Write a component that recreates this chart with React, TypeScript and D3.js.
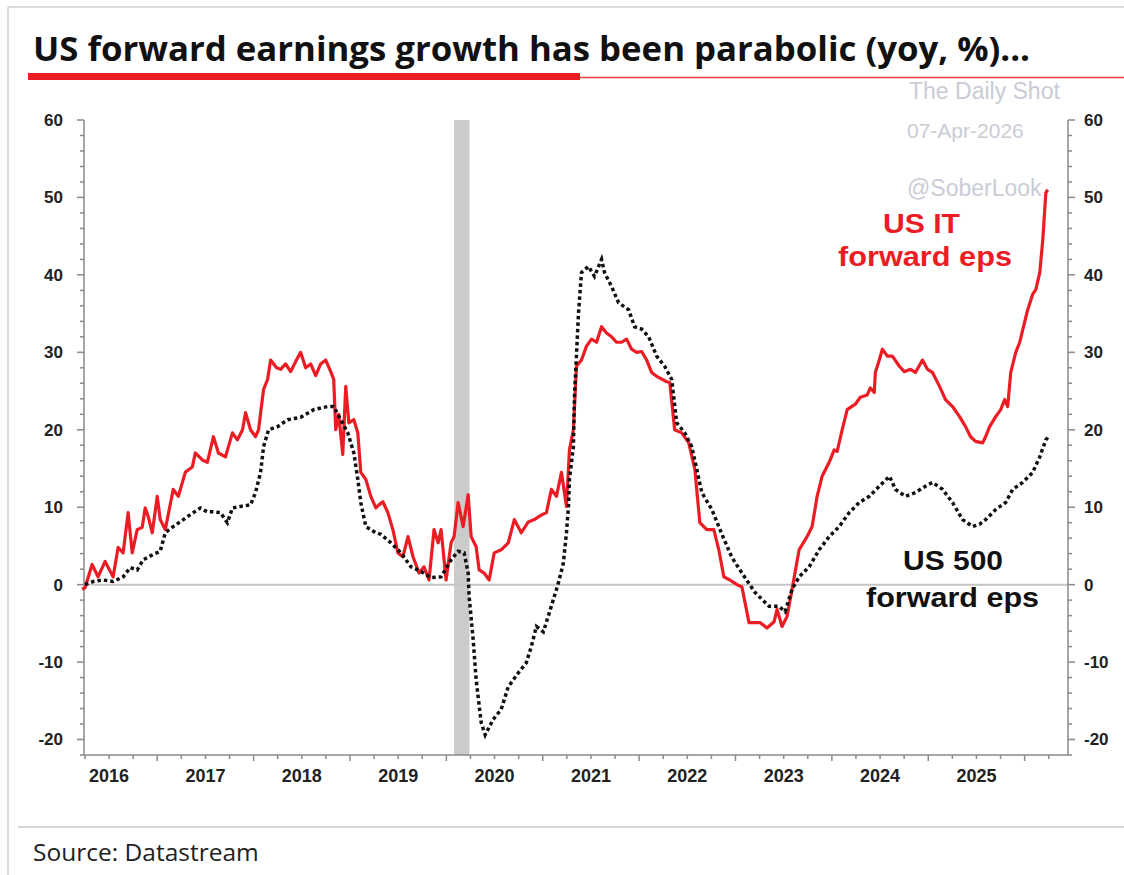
import React from "react";
import * as d3 from "d3";

// ---------- DATA ----------
const yTickValues = [-20, -10, 0, 10, 20, 30, 40, 50, 60];
const yearLabels = [2016, 2017, 2018, 2019, 2020, 2021, 2022, 2023, 2024, 2025];
const recession = [2020.08, 2020.24];

// US IT forward eps growth (yoy, %) : [decimal year, value]
const usItSeries: [number, number][] = [
  [2016.22, -0.6], [2016.251, -0.4], [2016.324, 2.6], [2016.386, 1], [2016.459, 3], [2016.542, 1],
  [2016.594, 4.8], [2016.646, 4.1], [2016.698, 9.3], [2016.74, 4.1], [2016.792, 7.1], [2016.844, 7.4],
  [2016.875, 9.9], [2016.906, 8.8], [2016.948, 6.7], [2017.0, 11.4], [2017.031, 8.4], [2017.083, 7.1],
  [2017.166, 12.3], [2017.219, 11.4], [2017.291, 14.5], [2017.364, 15.2], [2017.395, 17], [2017.468, 16.1],
  [2017.52, 15.8], [2017.583, 19.1], [2017.635, 17], [2017.708, 16.5], [2017.78, 19.6], [2017.832, 18.7],
  [2017.885, 20], [2017.916, 22.2], [2017.968, 20], [2018.02, 19.1], [2018.051, 20], [2018.103, 25.2],
  [2018.145, 26.5], [2018.176, 29], [2018.238, 28], [2018.28, 27.8], [2018.332, 28.5], [2018.384, 27.5],
  [2018.436, 28.8], [2018.488, 30], [2018.54, 28], [2018.592, 28.5], [2018.644, 27], [2018.696, 28.5],
  [2018.748, 29], [2018.8, 27.5], [2018.831, 26.5], [2018.852, 20], [2018.883, 22], [2018.925, 16.8],
  [2018.956, 25.6], [2018.988, 20.9], [2019.04, 21.3], [2019.081, 19.6], [2019.112, 14.5], [2019.164, 13.6],
  [2019.216, 11.4], [2019.268, 9.9], [2019.3, 10.3], [2019.341, 10.7], [2019.393, 9.3], [2019.445, 7.1],
  [2019.497, 4.1], [2019.549, 3.6], [2019.602, 6.2], [2019.654, 3.6], [2019.716, 1.5], [2019.768, 2.3],
  [2019.82, 0.6], [2019.872, 7.1], [2019.914, 5.4], [2019.945, 7.1], [2019.997, 0.6], [2020.049, 5.4],
  [2020.08, 6.2], [2020.122, 10.6], [2020.174, 7.5], [2020.226, 11.6], [2020.257, 6.2], [2020.309, 4.9],
  [2020.34, 1.9], [2020.392, 1.5], [2020.444, 0.6], [2020.496, 4.1], [2020.569, 4.5], [2020.642, 5.4],
  [2020.705, 8.4], [2020.777, 6.7], [2020.85, 8.1], [2020.913, 8.4], [2020.986, 9], [2021.038, 9.3],
  [2021.09, 12.3], [2021.142, 11.4], [2021.194, 14.5], [2021.246, 10.1], [2021.277, 17.4], [2021.318, 20],
  [2021.35, 28.2], [2021.402, 29], [2021.454, 30.8], [2021.506, 31.7], [2021.558, 31.3], [2021.61, 33.3],
  [2021.662, 32.5], [2021.714, 32], [2021.766, 31.3], [2021.818, 31.3], [2021.87, 31.7], [2021.922, 30.4],
  [2021.974, 30], [2022.026, 30.1], [2022.078, 29], [2022.13, 27.4], [2022.182, 26.9], [2022.286, 26.2],
  [2022.318, 26.1], [2022.369, 20], [2022.442, 19.6], [2022.515, 18.3], [2022.578, 14.9], [2022.63, 8],
  [2022.702, 7.1], [2022.775, 7.1], [2022.827, 4.5], [2022.879, 1], [2022.942, 0.6], [2023.015, 0],
  [2023.067, -0.3], [2023.14, -4.9], [2023.202, -4.9], [2023.254, -4.9], [2023.327, -5.6], [2023.4, -4.8],
  [2023.431, -3.2], [2023.483, -5.4], [2023.535, -4.1], [2023.587, -0.6], [2023.66, 4.5], [2023.743, 6.2],
  [2023.795, 7.5], [2023.847, 11.4], [2023.899, 14], [2023.972, 15.8], [2024.024, 17.4], [2024.055, 17.2],
  [2024.107, 20], [2024.159, 22.6], [2024.243, 23.3], [2024.295, 24.2], [2024.367, 24.5], [2024.399, 25.4],
  [2024.44, 24.8], [2024.451, 27.4], [2024.492, 29], [2024.524, 30.4], [2024.576, 29.5], [2024.628, 29.5],
  [2024.7, 28.2], [2024.752, 27.5], [2024.815, 27.8], [2024.867, 27.4], [2024.94, 29], [2024.992, 27.8],
  [2025.044, 27.4], [2025.117, 25.6], [2025.179, 23.9], [2025.252, 23], [2025.325, 21.7], [2025.387, 20.4],
  [2025.439, 19.1], [2025.491, 18.5], [2025.564, 18.3], [2025.595, 19.1], [2025.637, 20.4], [2025.7, 21.7],
  [2025.752, 22.6], [2025.793, 23.9], [2025.824, 23], [2025.856, 27.4], [2025.908, 30], [2025.949, 31.3],
  [2025.98, 32.9], [2026.032, 35.5], [2026.084, 37.5], [2026.116, 38.1], [2026.157, 40.3], [2026.189, 44.6],
  [2026.22, 50.6], [2026.24, 51],
];

// US 500 forward eps growth (yoy, %) : [decimal year, value]
const us500Series: [number, number][] = [
  [2016.251, 0], [2016.334, 0.4], [2016.438, 0.6], [2016.542, 0.4], [2016.646, 1], [2016.719, 2.2],
  [2016.792, 1.9], [2016.854, 3.2], [2016.958, 3.9], [2017.031, 4.3], [2017.083, 6.7], [2017.166, 7.5],
  [2017.271, 8.4], [2017.375, 9.3], [2017.447, 9.9], [2017.52, 9.4], [2017.583, 9.4], [2017.656, 9.3],
  [2017.728, 8], [2017.78, 9.9], [2017.864, 10.1], [2017.968, 10.3], [2018.02, 11.9], [2018.072, 14.5],
  [2018.103, 17.8], [2018.155, 20], [2018.249, 20.4], [2018.353, 21.3], [2018.488, 21.6], [2018.623, 22.6],
  [2018.769, 23], [2018.831, 23], [2018.904, 21.3], [2018.977, 19.6], [2019.04, 17], [2019.081, 13.6],
  [2019.112, 10.6], [2019.164, 7.5], [2019.268, 6.7], [2019.32, 6.5], [2019.425, 5.4], [2019.529, 4.1],
  [2019.633, 2.3], [2019.737, 1.7], [2019.841, 0.9], [2019.945, 1], [2020.049, 3.2], [2020.122, 4.3],
  [2020.184, 4.1], [2020.226, 1.5], [2020.236, -1.5], [2020.278, -7.1], [2020.309, -12.3], [2020.361, -17.8],
  [2020.403, -19.4], [2020.486, -17.4], [2020.569, -16.1], [2020.642, -13.2], [2020.746, -11.4],
  [2020.829, -10.1], [2020.881, -8], [2020.934, -5.4], [2021.006, -6.1], [2021.069, -3.6], [2021.162, 0.2],
  [2021.214, 2.8], [2021.246, 6.7], [2021.267, 10.1], [2021.277, 13.6], [2021.318, 17.8], [2021.329, 24.3],
  [2021.371, 35.1], [2021.402, 40.3], [2021.475, 41.1], [2021.537, 39.8], [2021.61, 42], [2021.641, 40.3],
  [2021.714, 38.5], [2021.787, 36.4], [2021.891, 35.5], [2021.953, 33.3], [2022.026, 33], [2022.099, 32],
  [2022.182, 29.5], [2022.265, 28.2], [2022.338, 26.5], [2022.39, 20.9], [2022.474, 19.6], [2022.546, 17.8],
  [2022.598, 14.9], [2022.65, 11.9], [2022.755, 9.7], [2022.859, 6.5], [2022.963, 3.5], [2023.067, 1.5],
  [2023.202, -1], [2023.348, -2.8], [2023.452, -2.8], [2023.514, -3.5], [2023.587, -0.6], [2023.66, 1],
  [2023.764, 2.3], [2023.868, 4.5], [2023.972, 6.2], [2024.076, 7.5], [2024.18, 9.3], [2024.284, 10.6],
  [2024.388, 11.4], [2024.492, 12.7], [2024.597, 14], [2024.659, 12.3], [2024.763, 11.4], [2024.867, 11.9],
  [2024.971, 12.7], [2025.044, 13.2], [2025.148, 12.3], [2025.252, 10.6], [2025.356, 8.4], [2025.46, 7.5],
  [2025.533, 7.8], [2025.595, 8.4], [2025.7, 9.7], [2025.803, 10.6], [2025.876, 12.3], [2025.98, 13.2],
  [2026.084, 14.5], [2026.157, 16.5], [2026.22, 18.7], [2026.24, 19],
];

const titleText = "US forward earnings growth has been parabolic (yoy, %)...";
const sourceText = "Source: Datastream";
const watermarks = ["The Daily Shot", "07-Apr-2026", "@SoberLook"];

// ---------- CHART ----------
const W = 1124;
const H = 875;
const RED = "#ec1c24";
const AXIS = "#8a8a8a";
const WM = "#c9ccd6";

export default function App() {
  const x = d3.scaleLinear().domain([2016.24, 2026.45]).range([84, 1068]);
  const y = d3.scaleLinear().domain([-22, 60]).range([755, 120]);
  const [x0, x1] = x.range();
  const [yBottom, yTop] = y.range();

  const line = d3
    .line<[number, number]>()
    .x((d) => x(d[0]))
    .y((d) => y(d[1]));

  const minorY = d3.range(-22, 61, 2);
  const quarterTicks = d3
    .range(2016.25, 2026.46, 0.25)
    .filter((q) => x(q) >= x0 - 0.5 && x(q) <= x1 + 0.5);

  const labelFont = "Liberation Sans, Arial, sans-serif";

  return (
    <svg
      width={W}
      height={H}
      style={{ position: "absolute", left: 0, top: 0, background: "#fff" }}
      fontFamily={labelFont}
    >
      {/* outer frame */}
      <line x1={8} x2={W} y1={7} y2={7} stroke="#d0d0d0" strokeWidth={1.5} />
      <line x1={8} x2={8} y1={7} y2={H} stroke="#d0d0d0" strokeWidth={1.5} />

      {/* title */}
      <text
        x={33}
        y={61}
        fontFamily="Open Sans, sans-serif"
        fontWeight={700}
        fontSize={34}
        fill="#111"
        textLength={997}
        lengthAdjust="spacingAndGlyphs"
      >
        {titleText}
      </text>
      <rect x={28} y={73} width={552} height={7} fill={RED} />
      <line x1={580} x2={W} y1={77.5} y2={77.5} stroke={RED} strokeWidth={1.5} opacity={0.85} />

      {/* recession shading */}
      <rect
        x={x(recession[0])}
        y={yTop}
        width={x(recession[1]) - x(recession[0])}
        height={yBottom - yTop}
        fill="#cbcbcb"
      />

      {/* zero line */}
      <line x1={x0} x2={x1} y1={y(0)} y2={y(0)} stroke="#c4c4c4" strokeWidth={2} />

      {/* watermarks */}
      <g fill={WM} fontFamily={labelFont} fontSize={23}>
        <text x={909} y={99}>{watermarks[0]}</text>
        <text x={907} y={138} fontSize={21}>{watermarks[1]}</text>
        <text x={907} y={196}>{watermarks[2]}</text>
      </g>

      {/* axes frame */}
      <g stroke={AXIS} strokeWidth={1.5} fill="none">
        <line x1={x0} x2={x0} y1={yTop} y2={yBottom} />
        <line x1={x1} x2={x1} y1={yTop} y2={yBottom} />
        <line x1={x0} x2={x1} y1={yBottom} y2={yBottom} />
        {minorY.map((v) => {
          const major = v % 10 === 0;
          const len = major ? 7 : 4;
          return (
            <g key={"yt" + v}>
              <line x1={x0 - len} x2={x0} y1={y(v)} y2={y(v)} />
              <line x1={x1} x2={x1 + len} y1={y(v)} y2={y(v)} />
            </g>
          );
        })}
        {quarterTicks.map((q) => {
          const major = Math.abs(q - Math.round(q)) < 1e-6;
          return (
            <line key={"xt" + q} x1={x(q)} x2={x(q)} y1={yBottom} y2={yBottom + (major ? 6 : 4)} />
          );
        })}
      </g>

      {/* y labels */}
      <g fontWeight={700} fontSize={17} fill="#222">
        {yTickValues.map((v) => (
          <g key={"yl" + v}>
            <text x={63} y={y(v)} dy="0.35em" textAnchor="end">
              {v}
            </text>
            <text x={1084} y={y(v)} dy="0.35em" textAnchor="start">
              {v}
            </text>
          </g>
        ))}
      </g>

      {/* x labels */}
      <g fontWeight={700} fontSize={18} fill="#222">
        {yearLabels.map((yr) => (
          <text key={"xl" + yr} x={x(yr + 0.5)} y={782} textAnchor="middle">
            {yr}
          </text>
        ))}
      </g>

      {/* series */}
      <path d={line(usItSeries) || ""} fill="none" stroke={RED} strokeWidth={3.2} strokeLinejoin="round" />
      <path
        d={line(us500Series) || ""}
        fill="none"
        stroke="#111"
        strokeWidth={3.5}
        strokeDasharray="3.5 3"
      />

      {/* series labels */}
      <g fontWeight={700} fontSize={28}>
        <text x={883} y={233} fill={RED} textLength={77} lengthAdjust="spacingAndGlyphs">US IT</text>
        <text x={838} y={266} fill={RED} textLength={174} lengthAdjust="spacingAndGlyphs">forward eps</text>
        <text x={903} y={570} fill="#111" textLength={100} lengthAdjust="spacingAndGlyphs">US 500</text>
        <text x={866} y={607} fill="#111" textLength={173} lengthAdjust="spacingAndGlyphs">forward eps</text>
      </g>

      {/* footer */}
      <line x1={18} x2={W} y1={827} y2={827} stroke="#c8c8c8" strokeWidth={1.5} />
      <text x={33} y={861} fontFamily="Open Sans, sans-serif" fontSize={24.5} fill="#222">
        {sourceText}
      </text>
    </svg>
  );
}
